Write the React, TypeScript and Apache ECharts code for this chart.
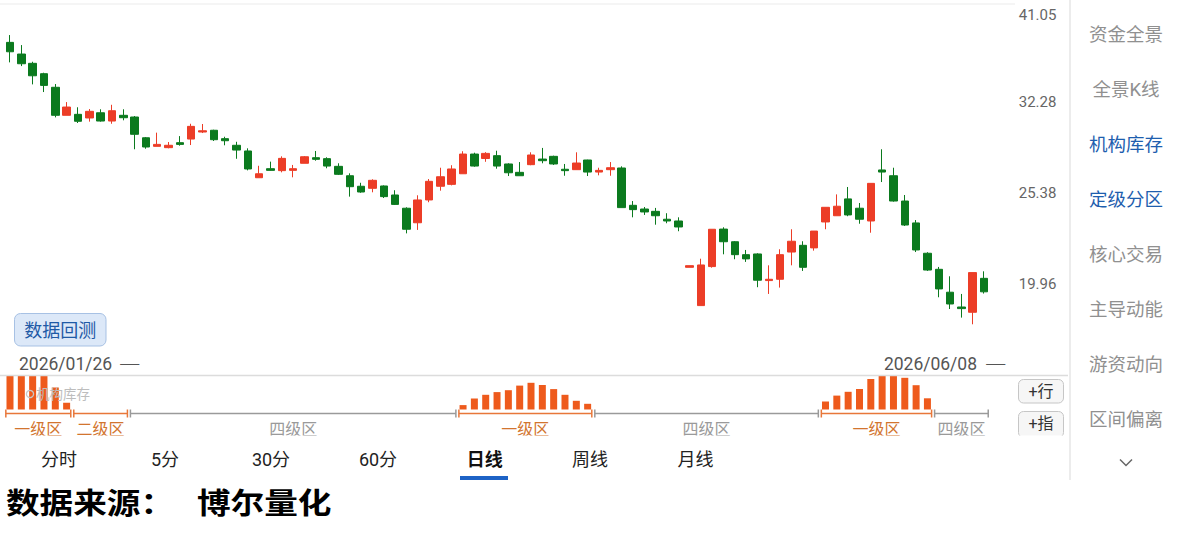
import React, { useEffect, useRef } from 'react';
import * as echarts from 'echarts';

const FONT = 'Roboto, "Noto Sans CJK SC", sans-serif';
const CJK = '"Noto Sans CJK SC", sans-serif';

const DATE_START = '2026/01/26';
const DATE_END = '2026/06/08';

// Daily OHLC
const OPEN = [
  37.83, 36.68, 35.79, 34.82, 33.59, 31.19, 31.27, 30.97, 31.40, 30.72,
  31.19, 31.05, 29.39, 28.73, 28.63, 29.01, 29.29, 29.84, 29.98, 29.32,
  28.81, 28.38, 26.44, 27.08, 26.94, 26.96, 27.47, 27.88, 27.81, 27.25,
  26.58, 25.85, 25.71, 25.87, 25.26, 24.39, 23.47, 24.93, 25.85, 25.98,
  26.72, 28.15, 27.82, 28.03, 27.42, 26.82, 27.37, 27.78, 27.98, 27.04,
  27.01, 27.71, 26.84, 27.01, 27.13, 24.58, 24.34, 24.19, 23.69, 23.58,
  20.86, 18.85, 20.90, 23.08, 22.32, 21.57, 21.61, 20.14, 20.21, 21.72,
  22.11, 21.96, 23.52, 23.91, 25.00, 24.39, 23.58, 26.99, 26.58, 24.86,
  23.46, 21.65, 20.75, 19.53, 18.78, 18.52, 20.26,
];
const CLOSE = [
  36.90, 35.75, 34.63, 33.76, 31.19, 31.88, 30.70, 31.52, 30.72, 31.57,
  30.99, 29.66, 28.68, 28.88, 28.81, 28.88, 30.29, 29.94, 29.24, 29.16,
  28.45, 27.06, 26.72, 26.96, 27.83, 27.08, 27.95, 27.76, 27.27, 26.68,
  25.82, 25.46, 26.26, 25.15, 24.64, 23.07, 24.93, 26.19, 26.51, 27.06,
  28.15, 27.27, 28.20, 27.27, 26.79, 26.58, 28.08, 27.66, 27.42, 26.94,
  27.49, 26.84, 26.96, 27.15, 24.43, 24.30, 24.15, 23.91, 23.58, 23.21,
  20.95, 20.99, 23.07, 22.32, 21.57, 21.33, 20.16, 20.21, 21.57, 22.35,
  20.86, 22.96, 24.45, 24.52, 23.96, 23.69, 26.05, 26.84, 24.86, 23.33,
  21.84, 20.71, 19.70, 18.93, 18.70, 20.57, 19.55,
];
const LOW = [
  35.88, 35.53, 33.85, 33.17, 31.02, 31.19, 30.56, 30.67, 30.67, 30.50,
  30.78, 28.51, 28.55, 28.73, 28.58, 28.78, 28.83, 29.76, 29.14, 28.81,
  27.80, 26.96, 26.44, 26.94, 26.82, 26.47, 27.47, 27.66, 27.11, 26.63,
  25.15, 25.41, 25.44, 25.06, 24.60, 22.82, 23.03, 24.78, 25.55, 25.91,
  26.72, 27.22, 27.58, 27.08, 26.56, 26.58, 27.33, 27.47, 27.35, 26.58,
  27.01, 26.56, 26.61, 26.58, 24.43, 23.81, 23.96, 23.35, 23.44, 22.95,
  20.86, 18.85, 20.84, 21.59, 21.31, 21.16, 19.79, 19.44, 19.77, 20.97,
  20.66, 21.80, 23.07, 23.91, 23.88, 23.41, 22.86, 26.14, 24.82, 23.27,
  21.72, 20.66, 19.27, 18.68, 18.26, 17.94, 19.46,
];
const HIGH = [
  38.57, 37.56, 35.94, 34.91, 33.88, 32.30, 31.86, 31.71, 31.69, 32.07,
  31.69, 31.13, 29.45, 29.79, 29.06, 29.52, 30.50, 30.48, 30.02, 29.47,
  29.08, 28.58, 27.29, 27.59, 27.98, 27.35, 28.00, 28.38, 27.91, 27.47,
  26.75, 26.09, 26.33, 25.91, 25.58, 24.45, 25.24, 26.35, 27.15, 27.33,
  28.36, 28.25, 28.29, 28.40, 27.47, 27.56, 28.28, 28.61, 28.03, 27.42,
  28.28, 27.73, 27.15, 27.56, 27.25, 24.86, 24.47, 24.41, 24.07, 23.81,
  20.95, 21.34, 23.07, 23.19, 22.36, 21.84, 21.65, 20.97, 21.88, 23.07,
  22.35, 22.96, 24.45, 25.30, 25.80, 24.73, 26.05, 28.51, 27.15, 25.26,
  23.64, 21.71, 20.88, 20.37, 19.44, 20.57, 20.64,
];

// Price axis tick labels (log-spaced)
const PRICE_TICKS = ['15.70', '19.96', '25.38', '32.28', '41.05'];

// Institutional inventory bars (null = no bar)
const BAR_VALUES: (number | null)[] = [
  33.5, 33.5, 33.5, 33.5, 22, 6.7,
  ...Array(34).fill(null),
  4.4, 11, 14.7, 17.4, 19.3, 23.9, 26.7, 24.5, 20.4, 14.7, 8.7, 5.7,
  ...Array(20).fill(null),
  8, 13.9, 17.7, 20.5, 30.5, 34, 34, 31.7, 24.3, 11.2,
  ...Array(5).fill(null),
];

// Zones (category indices, inclusive)
const ZONE_START = [0, 6, 11, 40, 52, 72, 82];
const ZONE_END = [5, 10, 39, 51, 71, 81, 86];
const ZONE_LABEL = ['一级区', '二级区', '四级区', '一级区', '四级区', '一级区', '四级区'];

const SIDE_MENU = ['资金全景', '全景K线', '机构库存', '定级分区', '核心交易', '主导动能', '游资动向', '区间偏离'];
const SIDE_ACTIVE = ['机构库存', '定级分区'];
const TABS = ['分时', '5分', '30分', '60分', '日线', '周线', '月线'];
const TAB_ACTIVE = '日线';

// layout only
const TAB_X = [59, 165, 271, 378, 484.7, 590, 695.6];

const BASE = parseFloat(PRICE_TICKS[1]);
const LN_R = Math.log(parseFloat(PRICE_TICKS[4]) / BASE) / 3;
const toStep = (p: number) => Math.log(p / BASE) / LN_R;

const RED = '#EC3D27';
const GREEN = '#0B7A1E';

const txt = (text: string, x: number, y: number, extra: any = {}, elProps: any = {}) => ({
  type: 'text', x, y, ...elProps,
  style: {
    text, fontFamily: FONT, align: 'center', verticalAlign: 'middle',
    textAlign: extra.align || 'center', textVerticalAlign: 'middle', ...extra,
  },
});

export default function App() {
  const ref = useRef<HTMLDivElement>(null);

  useEffect(() => {
    if (!ref.current) return;
    const chart = echarts.init(ref.current, null, { renderer: 'svg', width: 1180, height: 534 });
    const cats = OPEN.map((_, i) => String(i + 1));
    const candles = OPEN.map((o, i) => [toStep(o), toStep(CLOSE[i]), toStep(LOW[i]), toStep(HIGH[i])]);
    const zones = ZONE_START.map((s, i) => [s, ZONE_END[i], i]);

    const graphic: any[] = [];
    graphic.push({ type: 'line', shape: { x1: 0, y1: 4, x2: 1015, y2: 4 }, style: { stroke: '#ebebeb', lineWidth: 1 } });
    graphic.push({ type: 'line', shape: { x1: 1070, y1: 0, x2: 1070, y2: 480 }, style: { stroke: '#e6e6e6', lineWidth: 1.5 } });
    graphic.push({ type: 'line', shape: { x1: 0, y1: 375.5, x2: 1068, y2: 375.5 }, style: { stroke: '#dcdcdc', lineWidth: 1.5 }, z: 5 });

    // 数据回测 button
    graphic.push({ type: 'rect', shape: { x: 14.5, y: 313.5, width: 91.5, height: 32.5, r: 6 }, style: { fill: '#DCE8F8', stroke: '#A7C1E4', lineWidth: 1 } });
    graphic.push(txt('数据回测', 60.25, 330, { fill: '#1F5AA6', fontSize: 18 }));

    // dates
    graphic.push(txt(DATE_START, 19, 364, { fill: '#555', fontSize: 17.5, align: 'left' }));
    graphic.push(txt('—', 119, 361.5, { fill: '#555', fontSize: 16, align: 'left', fontFamily: CJK }, { scaleX: 1.5 }));
    graphic.push(txt(DATE_END, 977, 364, { fill: '#555', fontSize: 17.5, align: 'right' }));
    graphic.push(txt('—', 985, 361.5, { fill: '#555', fontSize: 16, align: 'left', fontFamily: CJK }, { scaleX: 1.5 }));

    // watermark
    graphic.push({ type: 'circle', shape: { cx: 30, cy: 394, r: 3.6 }, style: { fill: 'none', stroke: '#c8c8c8', lineWidth: 1.3 }, z: 20 });
    graphic.push(txt('机构库存', 36, 394, { fill: '#bdbdbd', fontSize: 13.5, align: 'left' }, { z: 20 }));

    // +行 / +指 buttons
    [['+行', 379.5, 23.5], ['+指', 411.5, 26]].forEach(([t, y, h]: any) => {
      graphic.push({ type: 'rect', shape: { x: 1018.5, y, width: 45, height: h, r: 5 }, style: { fill: '#f6f6f6', stroke: '#c6c6c6', lineWidth: 1 } });
      graphic.push(txt(t, 1041, y + 11.8, { fill: '#333', fontSize: 16 }));
    });

    // white tab bar overlay
    graphic.push({ type: 'rect', shape: { x: 0, y: 435.5, width: 1069, height: 45 }, style: { fill: '#ffffff' }, z: 100 });

    // tabs
    TABS.forEach((t, i) => {
      const active = t === TAB_ACTIVE;
      graphic.push(txt(t, TAB_X[i], 459, { fill: active ? '#111' : '#222', fontSize: 18, fontWeight: active ? 'bold' : 'normal' }, { z: 101 }));
    });
    graphic.push({ type: 'rect', shape: { x: 460, y: 476, width: 48, height: 4 }, style: { fill: '#1D63C6' }, z: 101 });

    // side menu
    SIDE_MENU.forEach((t, i) => {
      const active = SIDE_ACTIVE.indexOf(t) >= 0;
      graphic.push(txt(t, 1126, 35 + i * 55, { fill: active ? '#1E5EAE' : '#909090', fontSize: 18.5 }));
    });
    graphic.push({ type: 'polyline', shape: { points: [[1120, 459.5], [1126, 465.5], [1132, 459.5]] }, style: { stroke: '#666', lineWidth: 1.5, fill: 'none' } });

    // source title
    graphic.push(txt('数据来源：', 6, 504.5, { fill: '#000', fontSize: 29, fontWeight: 'bold', align: 'left' }, { scaleX: 1.16 }));
    graphic.push(txt('博尔量化', 197, 504.5, { fill: '#000', fontSize: 29, fontWeight: 'bold', align: 'left' }, { scaleX: 1.16 }));

    const option: any = {
      animation: false,
      backgroundColor: '#ffffff',
      textStyle: { fontFamily: FONT },
      grid: [
        { left: 4.33, top: 11.5, width: 985.4, height: 363.3 },
        { left: 4.33, top: 375.5, width: 985.4, height: 34 },
      ],
      xAxis: [
        { type: 'category', data: cats, gridIndex: 0, show: false },
        { type: 'category', data: cats, gridIndex: 1, show: false },
      ],
      yAxis: [
        {
          type: 'value', gridIndex: 0, min: -1, max: 3, interval: 1, position: 'right',
          axisLine: { show: false }, axisTick: { show: false }, splitLine: { show: false },
          axisLabel: {
            margin: 29, fontSize: 15, color: '#666', fontFamily: FONT,
            showMinLabel: false, showMaxLabel: true,
            formatter: (v: number) => {
              const i = Math.round(v) + 1;
              if (i <= 0) return '';
              const t = PRICE_TICKS[i];
              return i === PRICE_TICKS.length - 1 ? '{top|' + t + '}' : t;
            },
            rich: { top: { fontSize: 15, color: '#666', fontFamily: FONT, padding: [7, 0, 0, 0] } },
          },
        },
        { type: 'value', gridIndex: 1, min: 0, max: 34, show: false },
      ],
      series: [
        {
          type: 'candlestick', xAxisIndex: 0, yAxisIndex: 0, data: candles, barWidth: 8,
          itemStyle: { color: RED, color0: GREEN, borderColor: RED, borderColor0: GREEN, borderWidth: 1 },
        },
        {
          type: 'bar', xAxisIndex: 1, yAxisIndex: 1, data: BAR_VALUES, barWidth: 7,
          itemStyle: { color: '#EE5A1C' }, z: 3,
        },
        {
          type: 'custom', xAxisIndex: 1, yAxisIndex: 1, data: zones, clip: false, z: 4,
          encode: { x: 0, y: 2 },
          renderItem: (params: any, api: any) => {
            const s = api.value(0);
            const e = api.value(1);
            const k = api.value(2);
            const label = ZONE_LABEL[k];
            const gray = label === '四级区';
            const lineColor = gray ? '#9a9a9a' : '#E8773A';
            const textColor = gray ? '#9a9a9a' : '#D2752F';
            const bw = api.size([1, 0])[0];
            const p0 = api.coord([s, 0]);
            const p1 = api.coord([e, 0]);
            const x0 = p0[0] - bw / 2 + 1.5;
            const x1 = p1[0] + bw / 2 - 1.5;
            const y = p0[1] + 4;
            return {
              type: 'group',
              children: [
                { type: 'line', shape: { x1: x0, y1: y, x2: x1, y2: y }, style: { stroke: lineColor, lineWidth: 1.5 } },
                { type: 'line', shape: { x1: x0, y1: y - 4, x2: x0, y2: y + 4 }, style: { stroke: lineColor, lineWidth: 1.5 } },
                { type: 'line', shape: { x1: x1, y1: y - 4, x2: x1, y2: y + 4 }, style: { stroke: lineColor, lineWidth: 1.5 } },
                {
                  type: 'text', x: (x0 + x1) / 2, y: y + 16,
                  style: { text: label, fill: textColor, fontSize: 16, fontFamily: FONT, align: 'center', verticalAlign: 'middle', textAlign: 'center', textVerticalAlign: 'middle' },
                },
              ],
            };
          },
        },
      ],
      graphic: { elements: graphic },
    };
    chart.setOption(option);
    return () => chart.dispose();
  }, []);

  return (
    <div
      ref={ref}
      style={{ position: 'fixed', left: 0, top: 0, width: 1180, height: 534, background: '#fff' }}
    />
  );
}
